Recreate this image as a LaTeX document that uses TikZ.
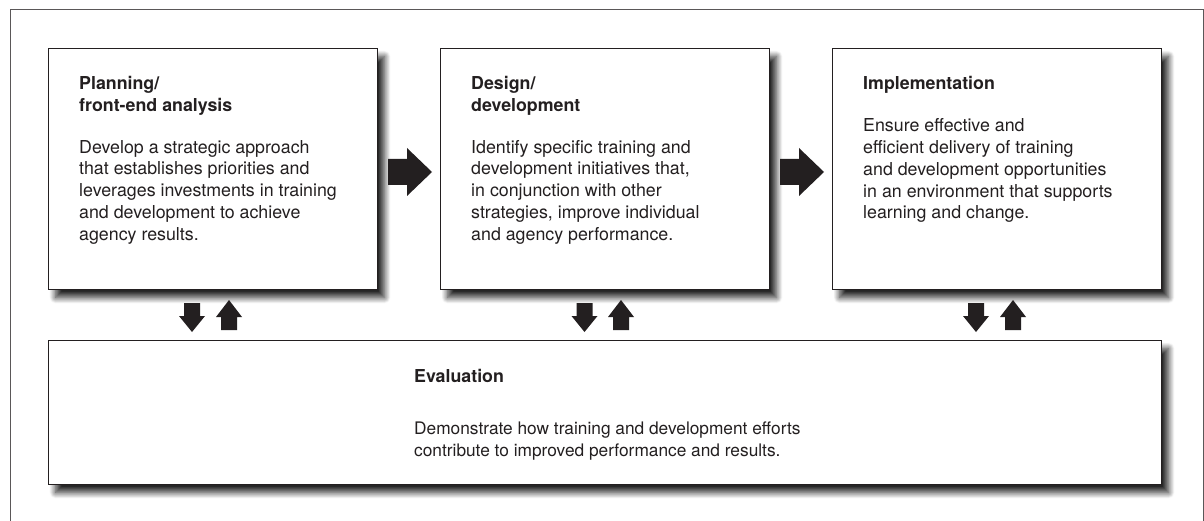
\documentclass[tikz,border=0pt]{standalone}
\usepackage{fontspec}
\setmainfont{TeX Gyre Heros}
\usetikzlibrary{shadows.blur}
\definecolor{ink}{HTML}{231F20}
\tikzset{
  box/.style={draw=ink, line width=1.1pt, fill=white, inner sep=0pt, anchor=north west,
    blur shadow={shadow xshift=7pt, shadow yshift=-8pt, shadow blur radius=6pt, shadow blur steps=14, shadow opacity=85}},
  ttl/.style={anchor=base west, inner sep=0pt, font=\bfseries\fontsize{17.8}{22}\selectfont, text=ink, align=left},
  bdy/.style={anchor=base west, inner sep=0pt, font=\fontsize{17.8}{21.7}\selectfont, text=ink, align=left},
  blk/.style={fill=ink, draw=none},
  frame/.style={draw=ink!75, line width=0.8pt}
}
\begin{document}
\begin{tikzpicture}[x=1pt,y=-1pt]
\useasboundingbox (0,0) rectangle (1204,521);
\draw[frame] (10,521) -- (10,9) -- (1203,9) -- (1203,521);

% boxes
\node[box, minimum width=329pt, minimum height=241pt] (p) at (48,48) {};
\node[box, minimum width=329pt, minimum height=241pt] (d) at (440,48) {};
\node[box, minimum width=329pt, minimum height=241pt] (i) at (832,48) {};
\node[box, minimum width=1113pt, minimum height=144pt] (e) at (48,340) {};

% texts (anchored at the baseline of their last line)
\node[ttl] (pt) at (79,111.5) {Planning/\\front-end analysis};
\node[bdy] (pb) at (79,240.1) {Develop a strategic approach\\that establishes priorities and\\leverages investments in training\\and development to achieve\\agency results.};
\node[ttl] (dt) at (471,111.5) {Design/\\development};
\node[bdy] (db) at (471,240.1) {Identify specific training and\\development initiatives that,\\in conjunction with other\\strategies, improve individual\\and agency performance.};
\node[ttl] (it) at (863,89.5) {Implementation};
\node[bdy] (ib) at (863,218.8) {Ensure effective and\\efficient delivery of training\\and development opportunities\\in an environment that supports\\learning and change.};
\node[ttl] (et) at (414,382) {Evaluation};
\node[bdy, font=\fontsize{17.3}{22.5}\selectfont] (eb) at (414,456.5) {Demonstrate how training and development efforts\\contribute to improved performance and results.};

% right block arrows
\foreach \ox in {0,392}{
  \fill[blk] (388+\ox,159) -- (407+\ox,159) -- (407+\ox,148) -- (432+\ox,172) -- (407+\ox,196) -- (407+\ox,185) -- (388+\ox,185) -- cycle;
}
% down / up block arrows
\foreach \cx in {192,584.5,976}{
  \fill[blk] (\cx-8,303) -- (\cx+8,303) -- (\cx+8,316) -- (\cx+13,316) -- (\cx,332) -- (\cx-13,316) -- (\cx-8,316) -- cycle;
}
\foreach \cx in {229,621,1013}{
  \fill[blk] (\cx-8,330) -- (\cx+8,330) -- (\cx+8,317) -- (\cx+13,317) -- (\cx,300) -- (\cx-13,317) -- (\cx-8,317) -- cycle;
}
\end{tikzpicture}
\end{document}
